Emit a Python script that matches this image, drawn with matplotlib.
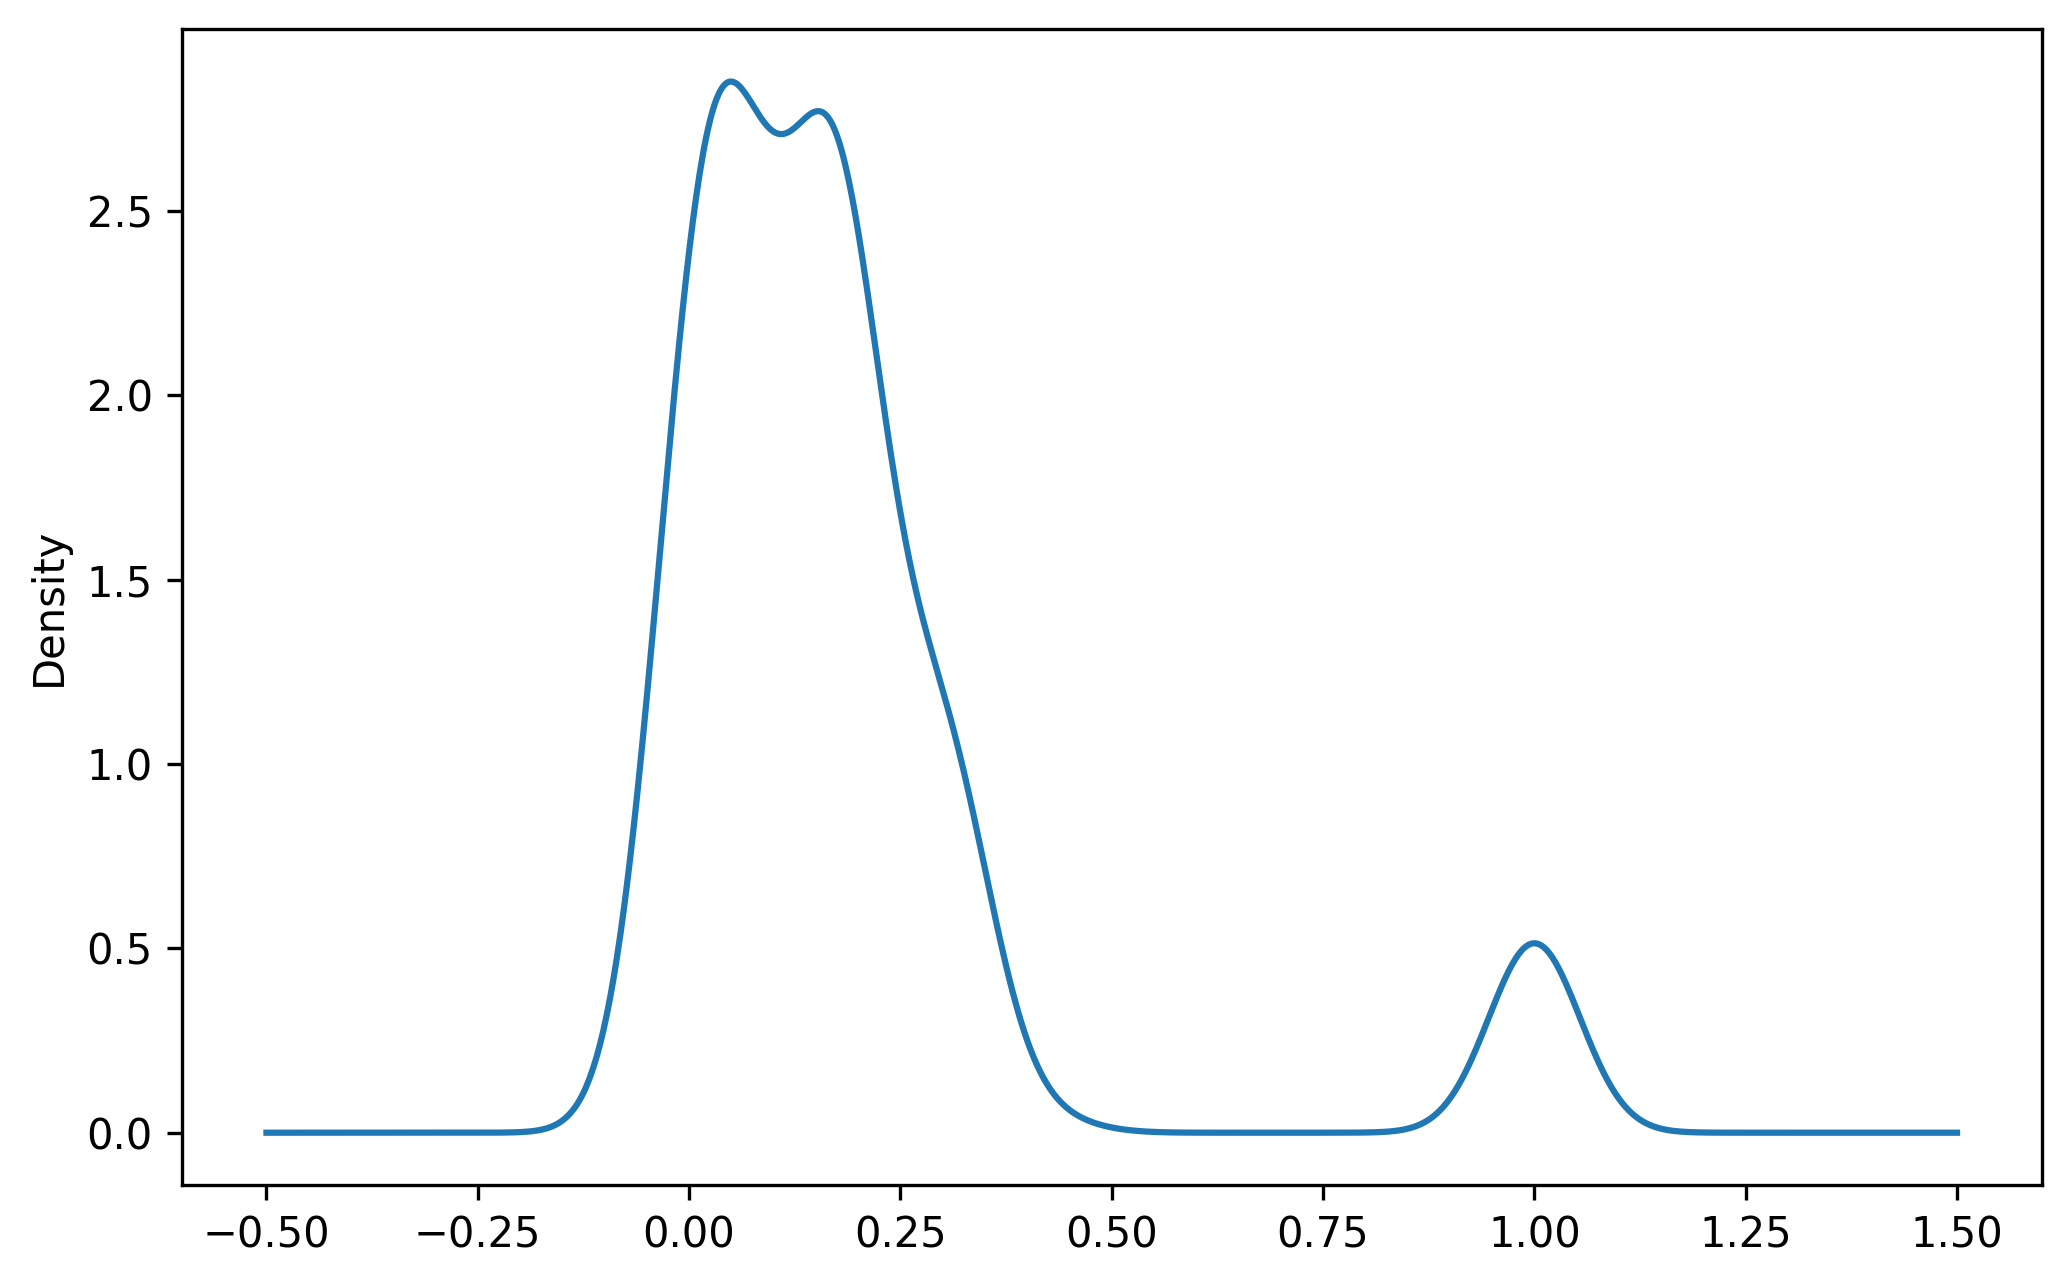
import numpy as np
import pandas as pd
import matplotlib
matplotlib.use("Agg")
import matplotlib.pyplot as plt

# sample values and how often each one occurs
values = [0.00, 0.04, 0.05, 0.06, 0.07, 0.08, 0.09, 0.12, 0.13, 0.14, 0.15, 0.16, 0.17,
          0.18, 0.19, 0.20, 0.21, 0.22, 0.23, 0.24, 0.25, 0.28, 0.29, 0.30, 0.31, 0.32,
          0.42, 1.00]
counts = [203, 2, 36, 106, 61, 13, 3, 3, 9, 29, 57, 65, 50,
          35, 27, 25, 25, 23, 16, 8, 3, 2, 7, 28, 59, 23,
          5, 69]

bandwidth = 0.054

s = pd.Series(np.repeat(values, counts))

fig = plt.figure(figsize=(2072 / 300, 1284 / 300), dpi=300)
ax = fig.add_subplot(111)
s.plot.kde(ax=ax, bw_method=bandwidth / s.std())
fig.subplots_adjust(left=0.0878, right=0.9853, top=0.9774, bottom=0.0769)
fig.savefig("out.png", dpi=300)
